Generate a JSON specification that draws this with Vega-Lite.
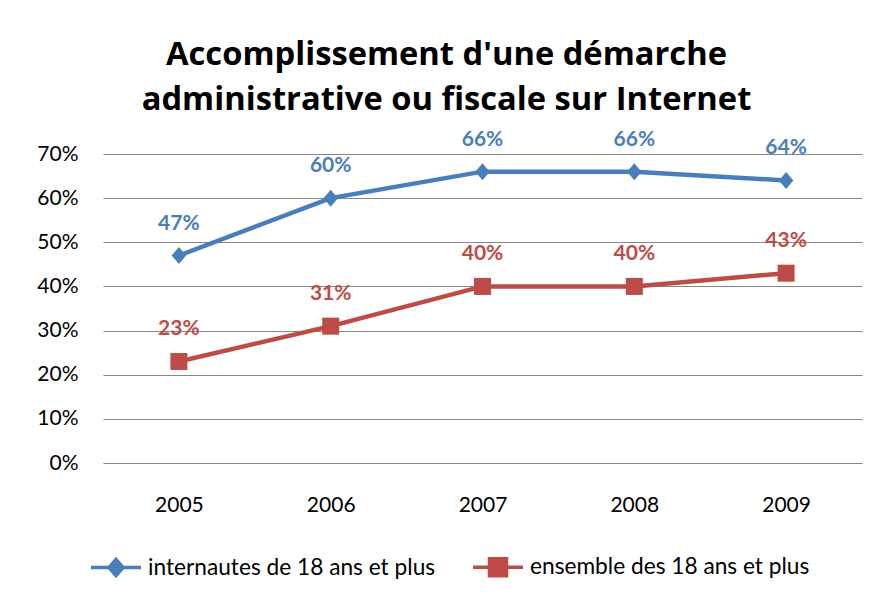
{
  "$schema": "https://vega.github.io/schema/vega-lite/v6.json",
  "width": 759,
  "height": 309,
  "autosize": {"type": "none"},
  "padding": {"left": 103, "top": 154, "right": 8, "bottom": 137},
  "background": "white",
  "config": {
    "view": {"stroke": null},
    "font": "Lato",
    "axis": {"labelFont": "Lato", "labelFontSize": 21, "labelColor": "#000000"}
  },
  "title": {
    "text": ["Accomplissement d'une démarche", "administrative ou  fiscale sur Internet"],
    "font": "Open Sans",
    "fontSize": 32.7,
    "fontWeight": "bold",
    "color": "#000000",
    "anchor": "middle",
    "frame": "group",
    "dx": -36,
    "lineHeight": 45,
    "offset": 12
  },
  "data": {
    "values": [
      {"year": "2005", "series": "internautes de 18 ans et plus", "value": 0.47},
      {"year": "2006", "series": "internautes de 18 ans et plus", "value": 0.60},
      {"year": "2007", "series": "internautes de 18 ans et plus", "value": 0.66},
      {"year": "2008", "series": "internautes de 18 ans et plus", "value": 0.66},
      {"year": "2009", "series": "internautes de 18 ans et plus", "value": 0.64},
      {"year": "2005", "series": "ensemble des 18 ans et plus", "value": 0.23},
      {"year": "2006", "series": "ensemble des 18 ans et plus", "value": 0.31},
      {"year": "2007", "series": "ensemble des 18 ans et plus", "value": 0.40},
      {"year": "2008", "series": "ensemble des 18 ans et plus", "value": 0.40},
      {"year": "2009", "series": "ensemble des 18 ans et plus", "value": 0.43}
    ]
  },
  "encoding": {
    "x": {
      "field": "year",
      "type": "ordinal",
      "scale": {"type": "point", "padding": 0.5},
      "axis": {"title": null, "ticks": false, "domain": false, "labelAngle": 0, "labelPadding": 31, "grid": false}
    },
    "y": {
      "field": "value",
      "type": "quantitative",
      "scale": {"domain": [0, 0.7]},
      "axis": {
        "title": null,
        "format": ".0%",
        "values": [0, 0.1, 0.2, 0.3, 0.4, 0.5, 0.6, 0.7],
        "ticks": false,
        "domain": false,
        "labelPadding": 25,
        "grid": true,
        "gridColor": "#868686",
        "gridWidth": 1.2
      }
    }
  },
  "layer": [
    {
      "mark": {"type": "line", "strokeWidth": 4.5},
      "encoding": {
        "color": {
          "field": "series",
          "type": "nominal",
          "scale": {
            "domain": ["internautes de 18 ans et plus", "ensemble des 18 ans et plus"],
            "range": ["#4A7EBB", "#BE4B48"]
          },
          "legend": {
            "title": null,
            "orient": "none",
            "direction": "horizontal",
            "legendX": -14,
            "legendY": 386,
            "padding": 0,
            "labelFont": "Lato",
            "labelFontSize": 22.7,
            "labelColor": "#000000",
            "labelOffset": 5,
            "labelLimit": 0,
            "columnPadding": 30,
            "symbolSize": 2500,
            "symbolStrokeWidth": 3.5,
            "symbolType": {"expr": "datum.value === 'ensemble des 18 ans et plus' ? 'M-1,0L1,0M-0.34,-0.34L0.34,-0.34L0.34,0.34L-0.34,0.34Z' : 'M-1,0L1,0M0,-0.32L0.28,0L0,0.32L-0.28,0Z'"},
            "symbolFillColor": {"expr": "datum.value === 'ensemble des 18 ans et plus' ? '#BE4B48' : '#4A7EBB'"}
          }
        }
      }
    },
    {
      "mark": {"type": "point", "filled": true, "opacity": 1, "size": 289, "strokeWidth": 0},
      "encoding": {
        "fill": {
          "field": "series",
          "type": "nominal",
          "scale": {
            "domain": ["internautes de 18 ans et plus", "ensemble des 18 ans et plus"],
            "range": ["#4A7EBB", "#BE4B48"]
          },
          "legend": null
        },
        "shape": {
          "condition": {"test": "datum.series === 'ensemble des 18 ans et plus'", "value": "square"},
          "value": "M0,-1L0.85,0L0,1L-0.85,0Z"
        }
      }
    },
    {
      "mark": {"type": "text", "font": "Lato", "fontSize": 21, "fontWeight": "bold", "baseline": "alphabetic", "dy": -26},
      "encoding": {
        "text": {"field": "value", "type": "quantitative", "format": ".0%"},
        "fill": {
          "field": "series",
          "type": "nominal",
          "scale": {
            "domain": ["internautes de 18 ans et plus", "ensemble des 18 ans et plus"],
            "range": ["#4F81BD", "#C0504D"]
          },
          "legend": null
        }
      }
    }
  ]
}
